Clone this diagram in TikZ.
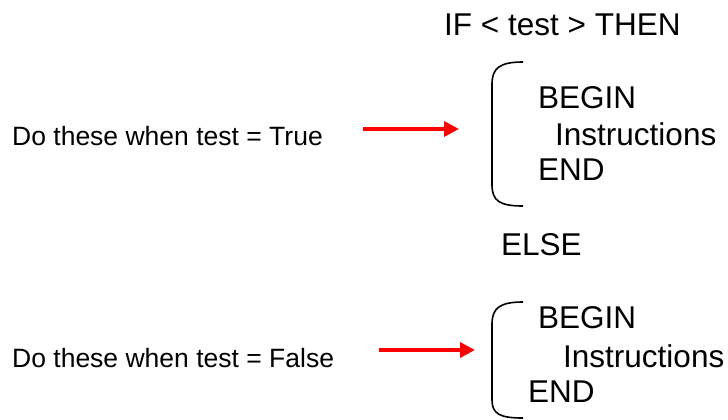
\documentclass[tikz,border=0pt]{standalone}
\usepackage{fontspec}
\setmainfont{Liberation Sans}
\usetikzlibrary{arrows.meta}
\tikzset{
  big/.style={anchor=base west, inner sep=0pt, font=\fontsize{31.5}{36}\selectfont},
  small/.style={anchor=base west, inner sep=0pt, font=\fontsize{26.5}{30}\selectfont},
  redarrow/.style={draw=red, line width=3.5pt, -{Triangle[length=15pt,width=15pt]}},
  bracket/.style={draw=black, line width=1.6pt}
}
\begin{document}
\begin{tikzpicture}[x=1pt,y=-1pt]
  \useasboundingbox (0,0) rectangle (728,420);

  % header line
  \node[big] (ifthen) at (444,35.5) {IF < test > THEN};

  % THEN branch
  \node[small] (truelbl) at (12,145) {Do these when test = True};
  \coordinate (t0) at (363,129);
  \coordinate (t1) at (459,129);
  \draw[redarrow] (t0) -- (t1);
  \draw[bracket] (523,62) .. controls (500,62) and (492,68) .. (492,84)
     -- (492,185) .. controls (492,201) and (500,206) .. (523,206);
  \node[big] (begin1) at (538,108) {BEGIN};
  \node[big] (instr1) at (555,145) {Instructions};
  \node[big] (end1) at (538,180) {END};

  % ELSE keyword
  \node[big] (else) at (501,255) {ELSE};

  % ELSE branch
  \node[small] (falselbl) at (12,367) {Do these when test = False};
  \coordinate (f0) at (379,350);
  \coordinate (f1) at (475,350);
  \draw[redarrow] (f0) -- (f1);
  \draw[bracket] (523,302) .. controls (500,302) and (492,308) .. (492,324)
     -- (492,400) .. controls (492,414) and (500,418) .. (523,418);
  \node[big] (begin2) at (538,328) {BEGIN};
  \node[big] (instr2) at (563,367) {Instructions};
  \node[big] (end2) at (528,402) {END};
\end{tikzpicture}
\end{document}
